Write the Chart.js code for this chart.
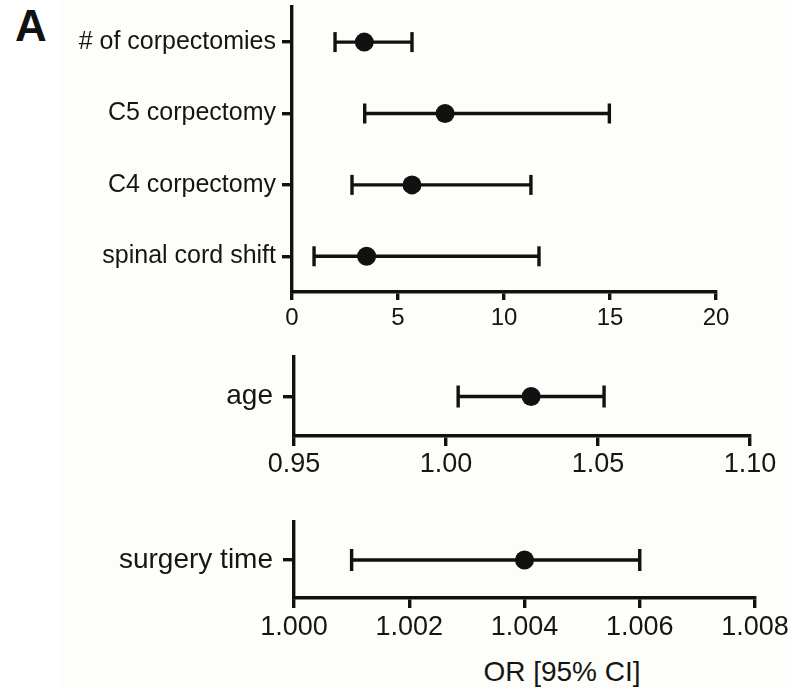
<!DOCTYPE html>
<html>
<head>
<meta charset="utf-8">
<script src="https://cdn.jsdelivr.net/npm/chart.js@4.4.1/dist/chart.umd.min.js"></script>
<style>
  html, body { margin: 0; padding: 0; background: #ffffff; }
  #page { position: relative; width: 791px; height: 689px; overflow: hidden; background: #ffffff; }
  #tint { position: absolute; left: 58px; top: 0; right: 0; bottom: 0; background: #fdfdfa; }
  .panel { position: absolute; left: 0; }
  #letter { position: absolute; left: 15px; top: 4px; font: bold 44px 'Liberation Sans', Arial, sans-serif; line-height: 44px; color: #111; }
  #xtitle { position: absolute; top: 655px; left: 462px; width: 200px; text-align: center; font: 28px 'Liberation Sans', Arial, sans-serif; line-height: 34px; color: #151515; }
</style>
</head>
<body>
<div id="page">
  <div id="tint"></div>
  <div id="letter">A</div>
  <canvas id="c1" class="panel" width="791" height="352" style="top:-7px"></canvas>
  <canvas id="c2" class="panel" width="791" height="140" style="top:340px"></canvas>
  <canvas id="c3" class="panel" width="791" height="150" style="top:500px"></canvas>
  <div id="xtitle">OR [95% CI]</div>
</div>
<script>
// ---- Data ----
// Panel 1
const categories1 = ["# of corpectomies", "C5 corpectomy", "C4 corpectomy", "spinal cord shift"];
const or1    = [3.41, 7.22, 5.66, 3.52];
const lower1 = [2.03, 3.43, 2.83, 1.04];
const upper1 = [5.66, 14.97, 11.27, 11.65];
const xTicks1 = [0, 5, 10, 15, 20];
const xTickLabels1 = ["0", "5", "10", "15", "20"];

// Panel 2
const categories2 = ["age"];
const or2    = [1.028];
const lower2 = [1.004];
const upper2 = [1.052];
const xTicks2 = [0.95, 1.00, 1.05, 1.10];
const xTickLabels2 = ["0.95", "1.00", "1.05", "1.10"];

// Panel 3
const categories3 = ["surgery time"];
const or3    = [1.004];
const lower3 = [1.001];
const upper3 = [1.006];
const xTicks3 = [1.000, 1.002, 1.004, 1.006, 1.008];
const xTickLabels3 = ["1.000", "1.002", "1.004", "1.006", "1.008"];

const axisTitle = "OR [95% CI]";

// ---- Rendering ----
Chart.defaults.font.family = "'Liberation Sans', Arial, sans-serif";
Chart.defaults.color = '#151515';
const INK = '#111111';
const LW = 3.4;

function makePanel(id, cats, ors, lows, highs, ticks, tickLabels, geo) {
  const datasets = [];
  cats.forEach((c, i) => {
    datasets.push({
      type: 'line',
      data: [{ x: lows[i], y: c }, { x: highs[i], y: c }],
      borderColor: INK,
      borderWidth: LW,
      pointStyle: 'line',
      rotation: 90,
      pointRadius: geo.capR,
      pointBorderWidth: LW,
      pointBorderColor: INK,
      pointBackgroundColor: INK,
      clip: false,
      order: 2
    });
  });
  datasets.push({
    type: 'line',
    showLine: false,
    data: cats.map((c, i) => ({ x: ors[i], y: c })),
    pointStyle: 'circle',
    pointRadius: geo.dotR,
    pointBackgroundColor: INK,
    pointBorderColor: INK,
    pointBorderWidth: 0,
    clip: false,
    order: 1
  });

  new Chart(document.getElementById(id), {
    type: 'line',
    data: { labels: cats, datasets },
    options: {
      responsive: false,
      animation: false,
      indexAxis: 'y',
      events: [],
      layout: { padding: { left: 0, right: geo.padRight, top: geo.padTop, bottom: 0 } },
      plugins: { legend: { display: false }, tooltip: { enabled: false } },
      scales: {
        x: {
          type: 'linear',
          position: 'bottom',
          min: ticks[0],
          max: ticks[ticks.length - 1],
          afterBuildTicks: s => { s.ticks = ticks.map(v => ({ value: v })); },
          afterFit: s => { s.height = geo.xHeight; s.paddingLeft = 0; s.paddingRight = 0; },
          border: { display: true, color: INK, width: LW },
          grid: { drawOnChartArea: false, drawTicks: true, tickLength: geo.xTickLen, color: INK, lineWidth: LW },
          ticks: {
            autoSkip: false,
            maxRotation: 0,
            padding: geo.xPad,
            color: '#151515',
            font: { size: geo.xFont },
            callback: (v, i) => tickLabels[i]
          }
        },
        y: {
          type: 'category',
          offset: true,
          afterFit: s => { s.width = geo.yWidth; s.paddingTop = 0; s.paddingBottom = 0; },
          border: { display: true, color: INK, width: LW },
          grid: { drawOnChartArea: false, drawTicks: true, tickLength: geo.yTickLen, color: INK, lineWidth: LW, offset: false },
          ticks: {
            autoSkip: false,
            padding: geo.yPad,
            color: '#151515',
            font: { size: geo.yFont }
          }
        }
      }
    }
  });
}

makePanel('c1', categories1, or1, lower1, upper1, xTicks1, xTickLabels1,
  { padRight: 75, padTop: 5, xHeight: 53, yWidth: 292, xTickLen: 8, yTickLen: 10, xPad: 4, yPad: 6, xFont: 24, yFont: 25, capR: 10, dotR: 9.5 });
makePanel('c2', categories2, or2, lower2, upper2, xTicks2, xTickLabels2,
  { padRight: 41, padTop: 17, xHeight: 44, yWidth: 294, xTickLen: 10, yTickLen: 11, xPad: 2, yPad: 10, xFont: 27, yFont: 28, capR: 11, dotR: 9.5 });
makePanel('c3', categories3, or3, lower3, upper3, xTicks3, xTickLabels3,
  { padRight: 36, padTop: 22, xHeight: 52, yWidth: 294, xTickLen: 10, yTickLen: 11, xPad: 3, yPad: 10, xFont: 27, yFont: 28, capR: 11, dotR: 9.5 });
</script>
</body>
</html>
